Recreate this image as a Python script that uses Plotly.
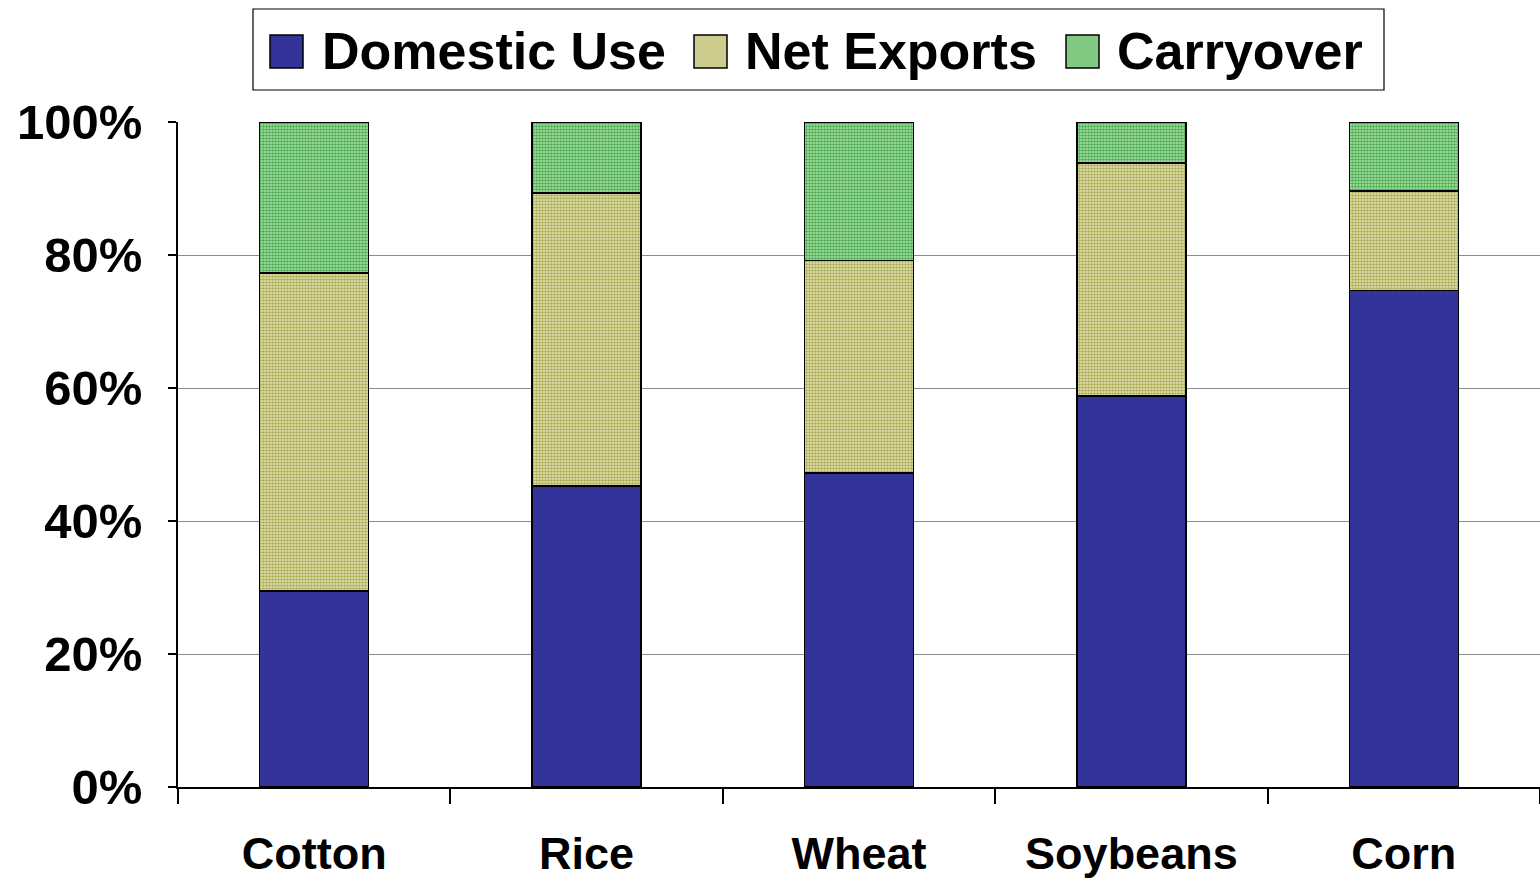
import plotly.graph_objects as go

# Share of supply by use, per crop
crops = ["Cotton", "Rice", "Wheat", "Soybeans", "Corn"]
domestic_use = [0.295, 0.453, 0.472, 0.588, 0.747]
net_exports = [0.478, 0.440, 0.320, 0.350, 0.149]
carryover = [0.227, 0.107, 0.208, 0.062, 0.104]

series_names = ["Domestic Use", "Net Exports", "Carryover"]
y_ticks = [0, 0.2, 0.4, 0.6, 0.8, 1.0]

FONT = "Liberation Sans, Arial, sans-serif"
BLUE = "#333399"
OLIVE_FG, OLIVE_BG = "#acac52", "#e8e8c4"
GREEN_FG, GREEN_BG = "#48ac4c", "#b8e4b8"

fig = go.Figure()
fig.add_bar(x=crops, y=domestic_use, name=series_names[0],
            marker=dict(color=BLUE, line=dict(color="black", width=1.5)))
fig.add_bar(x=crops, y=net_exports, name=series_names[1],
            marker=dict(color=OLIVE_BG, line=dict(color="black", width=1.5),
                        pattern=dict(shape=".", fgcolor=OLIVE_FG, bgcolor=OLIVE_BG,
                                     size=3, solidity=0.6, fillmode="replace")))
fig.add_bar(x=crops, y=carryover, name=series_names[2],
            marker=dict(color=GREEN_BG, line=dict(color="black", width=1.5),
                        pattern=dict(shape=".", fgcolor=GREEN_FG, bgcolor=GREEN_BG,
                                     size=3, solidity=0.6, fillmode="replace")))

# Plot area in pixels (for the hand-built legend)
L, R, T, B = 178, 1540, 122, 787


def px(xp):
    return (xp - L) / (R - L)


def py(yp):
    return (B - yp) / (B - T)


shapes = [dict(type="rect", xref="paper", yref="paper",
               x0=px(253), x1=px(1384), y0=py(90), y1=py(9),
               line=dict(color="black", width=1.2), fillcolor="white", layer="above")]
annotations = []
legend_items = [
    (series_names[0], BLUE, 270, 320),
    (series_names[1], "#cccc8e", 694, 743),
    (series_names[2], "#82c984", 1066, 1115),
]
for name, col, sx, tx in legend_items:
    shapes.append(dict(type="rect", xref="paper", yref="paper",
                       x0=px(sx), x1=px(sx + 33), y0=py(68), y1=py(35),
                       line=dict(color="black", width=1.5), fillcolor=col, layer="above"))
    annotations.append(dict(text=f"<b>{name}</b>", xref="paper", yref="paper",
                            x=px(tx), y=py(51), xanchor="left", yanchor="middle",
                            showarrow=False, font=dict(family=FONT, size=52, color="black")))

fig.update_layout(
    barmode="stack",
    bargap=0.6,
    width=1540, height=881,
    margin=dict(l=L, r=1540 - R, t=T, b=881 - B, pad=0),
    paper_bgcolor="white", plot_bgcolor="white",
    showlegend=False,
    shapes=shapes,
    annotations=annotations,
    font=dict(family=FONT, color="black"),
)
fig.update_xaxes(
    type="category", range=[-0.5, 4.5], automargin=False,
    showline=True, linecolor="black", linewidth=1.5,
    ticks="outside", tickson="boundaries", ticklen=15, tickcolor="black", tickwidth=1.5,
    tickfont=dict(family=FONT, size=45, color="black"),
    ticklabelstandoff=26,
    tickvals=crops, ticktext=[f"<b>{c}</b>" for c in crops],
    showgrid=False,
)
fig.update_yaxes(
    range=[0, 1.0], automargin=False,
    tickvals=y_ticks, ticktext=[f"<b>{int(round(v * 100))}%</b>" for v in y_ticks],
    showline=True, linecolor="black", linewidth=1.5,
    ticks="outside", ticklen=8, tickcolor="black", tickwidth=1.5,
    tickfont=dict(family=FONT, size=49, color="black"),
    ticklabelstandoff=16,
    showgrid=True, gridcolor="#8c8c8c", gridwidth=1.2,
    zeroline=False,
)

fig.write_html("out.html")
